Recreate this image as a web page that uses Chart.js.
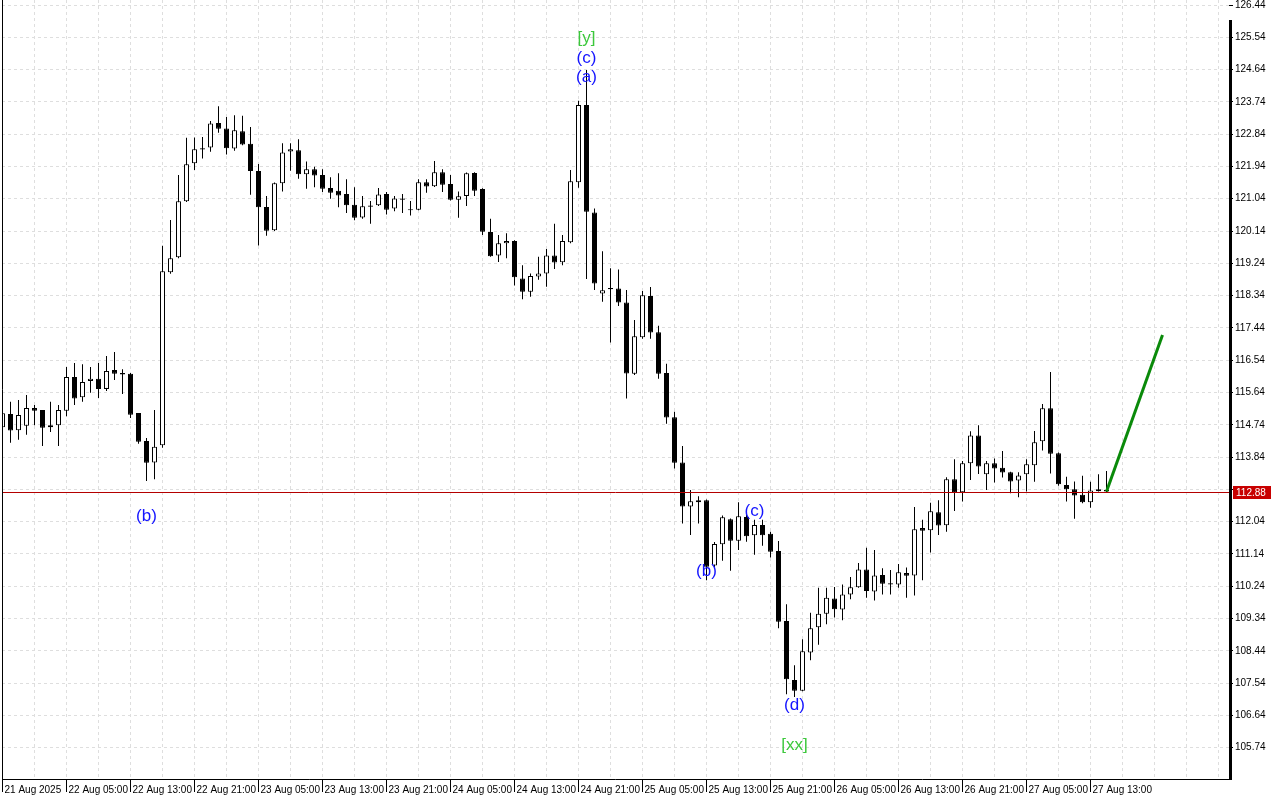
<!DOCTYPE html>
<html>
<head>
<meta charset="utf-8">
<title>H1 chart</title>
<script src="https://cdn.jsdelivr.net/npm/chart.js@4.4.1/dist/chart.umd.min.js"></script>
<style>
    html, body { margin: 0; padding: 0; background: #fff; }
    #priceChart { display: block; }
</style>
</head>
<body>
<canvas id="priceChart" width="1280" height="800"></canvas>
<script>
// Hourly candles, 21 Aug 21:00 .. 27 Aug 17:00
const opens = [
    114.67, 115.04, 114.59, 114.71, 115.21, 115.15, 114.67, 114.73, 115.13, 116.07,
    115.51, 115.96, 116.02, 115.74, 116.27, 116.18, 116.16, 115.07, 114.29, 113.69,
    114.17, 118.99, 119.41, 120.97, 122.03, 122.45, 122.47, 123.15, 123.00, 122.44,
    122.92, 122.57, 121.81, 120.81, 120.16, 121.47, 122.36, 122.39, 121.72, 121.86,
    121.70, 121.34, 121.26, 121.17, 120.87, 120.52, 120.85, 120.86, 121.17, 120.77,
    121.05, 120.75, 120.73, 121.50, 121.39, 121.78, 121.45, 121.01, 121.12, 121.76,
    121.31, 120.11, 119.46, 119.80, 119.86, 118.82, 118.45, 118.87, 118.96, 119.46,
    119.27, 119.83, 121.50, 123.65, 120.66, 118.40, 118.52, 118.54, 118.15, 116.16,
    117.18, 118.33, 117.32, 116.18, 114.95, 113.69, 112.46, 112.58, 112.64, 110.82,
    111.41, 112.11, 111.51, 112.17, 111.66, 111.95, 111.70, 111.22, 109.27, 107.63,
    107.33, 108.39, 109.10, 109.47, 109.90, 109.59, 110.01, 110.21, 110.71, 110.09,
    110.55, 110.32, 110.29, 110.61, 110.54, 111.86, 111.80, 112.30, 111.94, 113.22,
    112.86, 113.67, 114.44, 113.36, 113.67, 113.54, 113.42, 113.19, 113.36, 113.61,
    114.28, 115.20, 113.95, 113.06, 112.94, 112.79, 112.58, 112.89, 112.93
];
const highs = [
    115.29, 115.38, 115.43, 115.57, 115.29, 115.15, 115.38, 115.29, 116.35, 116.46,
    116.43, 116.35, 116.46, 116.66, 116.77, 116.29, 116.18, 115.07, 114.37, 115.15,
    119.73, 120.45, 121.70, 122.74, 122.75, 122.76, 123.21, 123.62, 123.32, 123.37,
    123.35, 123.04, 122.01, 121.12, 121.49, 122.59, 122.59, 122.70, 122.08, 121.93,
    121.86, 121.64, 121.75, 121.58, 121.36, 121.12, 120.98, 121.34, 121.23, 121.12,
    121.17, 120.98, 121.58, 121.58, 122.09, 121.86, 121.70, 121.24, 121.77, 121.78,
    121.33, 120.48, 120.03, 120.08, 119.88, 119.19, 118.96, 119.42, 119.64, 120.34,
    120.03, 121.84, 123.77, 124.63, 120.77, 119.58, 119.10, 119.07, 118.50, 117.66,
    118.47, 118.58, 117.50, 116.44, 115.10, 114.15, 112.92, 112.75, 112.66, 111.47,
    112.21, 112.13, 112.58, 112.27, 112.09, 112.09, 111.76, 111.50, 109.74, 108.04,
    108.76, 109.50, 110.20, 110.20, 110.22, 110.29, 110.50, 110.89, 111.31, 111.25,
    110.74, 110.69, 110.86, 110.76, 112.45, 112.09, 112.57, 112.64, 113.28, 113.78,
    113.73, 114.56, 114.73, 113.73, 113.80, 114.01, 113.43, 113.42, 113.78, 114.57,
    115.32, 116.21, 113.97, 113.29, 113.16, 113.32, 113.15, 113.36, 113.45
];
const lows = [
    114.54, 114.24, 114.32, 114.46, 114.73, 114.15, 114.54, 114.15, 114.98, 115.29,
    115.38, 115.63, 115.49, 115.68, 115.99, 115.60, 114.93, 114.21, 113.17, 113.22,
    114.10, 118.95, 119.38, 120.95, 121.84, 122.16, 122.35, 122.88, 122.27, 122.38,
    122.53, 121.15, 119.74, 120.01, 120.14, 121.24, 121.82, 121.60, 121.32, 121.36,
    121.23, 121.04, 120.80, 120.64, 120.44, 120.48, 120.34, 120.84, 120.60, 120.69,
    120.64, 120.57, 120.72, 121.21, 121.37, 121.23, 120.99, 120.51, 120.84, 121.12,
    120.03, 119.42, 119.28, 119.38, 118.62, 118.24, 118.31, 118.78, 118.59, 119.08,
    119.19, 119.80, 121.35, 118.80, 118.50, 118.17, 117.03, 118.05, 115.47, 116.13,
    117.14, 117.14, 116.02, 114.77, 113.52, 111.99, 111.67, 111.99, 110.41, 110.77,
    110.95, 110.67, 111.25, 111.48, 111.12, 111.37, 111.04, 109.07, 107.23, 107.15,
    107.31, 108.18, 108.61, 109.18, 109.37, 109.29, 109.88, 110.20, 109.92, 109.84,
    110.01, 110.01, 110.20, 109.92, 109.98, 110.41, 111.18, 111.67, 111.76, 112.34,
    112.60, 113.20, 113.37, 112.92, 113.13, 113.27, 112.83, 112.72, 112.88, 113.15,
    114.02, 113.38, 113.04, 112.60, 112.12, 112.55, 112.43, 112.88, 112.87
];
const closes = [
    115.06, 114.58, 115.01, 115.21, 115.13, 114.66, 114.73, 115.15, 116.07, 115.47,
    115.93, 116.02, 115.74, 116.24, 116.16, 116.14, 115.02, 114.27, 113.68, 114.13,
    119.02, 119.38, 120.97, 122.00, 122.42, 122.41, 123.14, 122.99, 122.45, 122.95,
    122.55, 121.81, 120.80, 120.15, 121.47, 122.33, 122.42, 121.72, 121.86, 121.69,
    121.32, 121.21, 121.13, 120.86, 120.51, 120.83, 120.82, 121.16, 120.73, 121.05,
    121.01, 120.72, 121.50, 121.38, 121.78, 121.43, 121.01, 121.11, 121.75, 121.26,
    120.12, 119.44, 119.80, 119.86, 118.85, 118.45, 118.89, 118.96, 119.46, 119.26,
    119.86, 121.53, 123.65, 120.68, 118.68, 118.49, 118.55, 118.15, 116.17, 117.21,
    118.35, 117.31, 116.16, 114.94, 113.68, 112.46, 112.61, 112.64, 110.78, 111.42,
    112.16, 111.51, 112.19, 111.63, 111.95, 111.66, 111.20, 109.25, 107.65, 107.33,
    108.43, 109.07, 109.47, 109.92, 109.60, 110.01, 110.21, 110.71, 110.11, 110.54,
    110.31, 110.29, 110.63, 110.53, 111.83, 111.79, 112.33, 111.93, 113.22, 112.86,
    113.67, 114.44, 113.58, 113.67, 113.52, 113.41, 113.16, 113.33, 113.64, 114.25,
    115.20, 113.93, 113.08, 112.94, 112.77, 112.58, 112.91, 112.94, 112.88
];

// one label every 8 bars
const timeLabels = [
    '21 Aug 2025', '22 Aug 05:00', '22 Aug 13:00', '22 Aug 21:00', '23 Aug 05:00', '23 Aug 13:00',
    '23 Aug 21:00', '24 Aug 05:00', '24 Aug 13:00', '24 Aug 21:00', '25 Aug 05:00', '25 Aug 13:00',
    '25 Aug 21:00', '26 Aug 05:00', '26 Aug 13:00', '26 Aug 21:00', '27 Aug 05:00', '27 Aug 13:00'
];
const priceTicks = [
    105.74, 106.64, 107.54, 108.44, 109.34, 110.24, 111.14, 112.04, 112.94, 113.84, 114.74, 115.64,
    116.54, 117.44, 118.34, 119.24, 120.14, 121.04, 121.94, 122.84, 123.74, 124.64, 125.54, 126.44
];
const currentPrice = 112.88;

// projected move (green)
const forecastBars = [138, 145];
const forecastPrices = [112.88, 117.24];

// wave marks
const waveText = ['[y]', '(c)', '(a)', '(b)', '(b)', '(c)', '(d)', '[xx]'];
const waveBars = [73, 73, 73, 18, 88, 94, 99, 99];
const wavePrices = [125.52, 124.96, 124.43, 112.20, 110.66, 112.34, 106.93, 105.82];

const BAR_STEP = 8; // px per bar
const isBear = i => closes[i] < opens[i];
const hasLabel = v => v % 8 === 0 && timeLabels[v / 8] !== undefined;

const bodyData = opens.map((o, i) => ({ x: i, y: [o, closes[i]] }));
const wickData = opens.map((o, i) => ({ x: i, y: [lows[i], highs[i]] }));
const forecastData = forecastBars.map((b, i) => ({ x: b, y: forecastPrices[i] }));

// frame, price line, price tag and wave labels
const overlay = {
    id: 'overlay',
    afterDatasetsDraw(chart) {
        const { ctx, chartArea: a, scales: { x, y } } = chart;
        ctx.save();

        const py = Math.round(y.getPixelForValue(currentPrice)) + 0.5;
        ctx.strokeStyle = '#b40000';
        ctx.lineWidth = 1;
        ctx.beginPath();
        ctx.moveTo(a.left, py);
        ctx.lineTo(a.right, py);
        ctx.stroke();

        ctx.font = '17px "Liberation Sans", Arial, sans-serif';
        ctx.textAlign = 'center';
        ctx.textBaseline = 'middle';
        waveText.forEach((t, i) => {
            ctx.fillStyle = t.startsWith('[') ? '#3cc83c' : '#1414ff';
            ctx.fillText(t, x.getPixelForValue(waveBars[i]), y.getPixelForValue(wavePrices[i]));
        });
        ctx.restore();
    },
    afterDraw(chart) {
        const { ctx, chartArea: a, scales: { y } } = chart;
        ctx.save();
        ctx.strokeStyle = '#000';
        ctx.lineWidth = 1;
        ctx.beginPath();
        ctx.moveTo(a.left + 0.5, a.top);
        ctx.lineTo(a.left + 0.5, a.bottom + 0.5);
        ctx.lineTo(a.right, a.bottom + 0.5);
        ctx.stroke();
        ctx.lineWidth = 3;
        ctx.beginPath();
        ctx.moveTo(a.right + 1.5, a.top + 20);
        ctx.lineTo(a.right + 1.5, a.bottom + 1);
        ctx.stroke();

        const py = Math.round(y.getPixelForValue(currentPrice));
        ctx.fillStyle = '#c80000';
        ctx.fillRect(a.right + 4, py - 6, 38, 13);
        ctx.fillStyle = '#fff';
        ctx.font = '10px "Liberation Sans", Arial, sans-serif';
        ctx.textAlign = 'left';
        ctx.textBaseline = 'middle';
        ctx.fillText(currentPrice.toFixed(2), a.right + 7, py + 1);
        ctx.restore();
    }
};

const ctx = document.getElementById('priceChart').getContext('2d');
new Chart(ctx, {
    type: 'bar',
    data: {
        datasets: [
            {
                type: 'line',
                data: forecastData,
                borderColor: '#0a8a0a',
                borderWidth: 3,
                pointRadius: 0,
                order: 0
            },
            {
                data: bodyData,
                backgroundColor: c => isBear(c.dataIndex) ? '#000' : '#fff',
                borderColor: '#000',
                borderWidth: 1,
                borderSkipped: false,
                barThickness: 5,
                inflateAmount: 0,
                grouped: false,
                order: 1
            },
            {
                data: wickData,
                backgroundColor: '#000',
                borderWidth: 0,
                barThickness: 1,
                inflateAmount: 0,
                grouped: false,
                order: 2
            }
        ]
    },
    options: {
        responsive: false,
        animation: false,
        devicePixelRatio: 1,
        layout: { padding: { left: 2, top: 0, right: 0, bottom: 0 } },
        plugins: { legend: { display: false }, tooltip: { enabled: false } },
        scales: {
            x: {
                type: 'linear',
                offset: false,
                min: -0.0625,
                max: -0.0625 + 1227 / BAR_STEP,
                grid: {
                    offset: false,
                    color: '#dedede',
                    drawTicks: true,
                    tickLength: 13,
                    tickColor: c => (c.tick && hasLabel(c.tick.value)) ? '#000' : 'rgba(0,0,0,0)',
                    tickBorderDash: []
                },
                border: { display: false, dash: [3, 3] },
                afterBuildTicks: s => {
                    const t = [];
                    for (let v = 0; v <= s.max; v += 4) t.push({ value: v });
                    s.ticks = t;
                },
                afterFit: s => { s.height = 21; s.paddingLeft = 0; s.paddingRight = 0; },
                ticks: {
                    autoSkip: false,
                    maxRotation: 0,
                    align: 'start',
                    padding: -8,
                    labelOffset: 2,
                    color: '#000',
                    font: { family: '"Liberation Sans", Arial, sans-serif', size: 10 },
                    callback: v => hasLabel(v) ? timeLabels[v / 8] : ''
                }
            },
            y: {
                position: 'right',
                min: 104.8676,
                max: 126.5794,
                grid: {
                    color: '#dedede',
                    drawTicks: true,
                    tickLength: 4,
                    tickColor: '#000',
                    tickBorderDash: []
                },
                border: { display: false, dash: [3, 3] },
                afterBuildTicks: s => { s.ticks = priceTicks.map(v => ({ value: v })); },
                afterFit: s => { s.width = 51; s.paddingTop = 0; s.paddingBottom = 0; },
                ticks: {
                    padding: 2,
                    color: '#000',
                    font: { family: '"Liberation Sans", Arial, sans-serif', size: 10 },
                    // the price tag hides the label next to it
                    callback: v => Math.abs(v - currentPrice) < 0.3 ? '' : v.toFixed(2)
                }
            }
        }
    },
    plugins: [overlay]
});
</script>
</body>
</html>
